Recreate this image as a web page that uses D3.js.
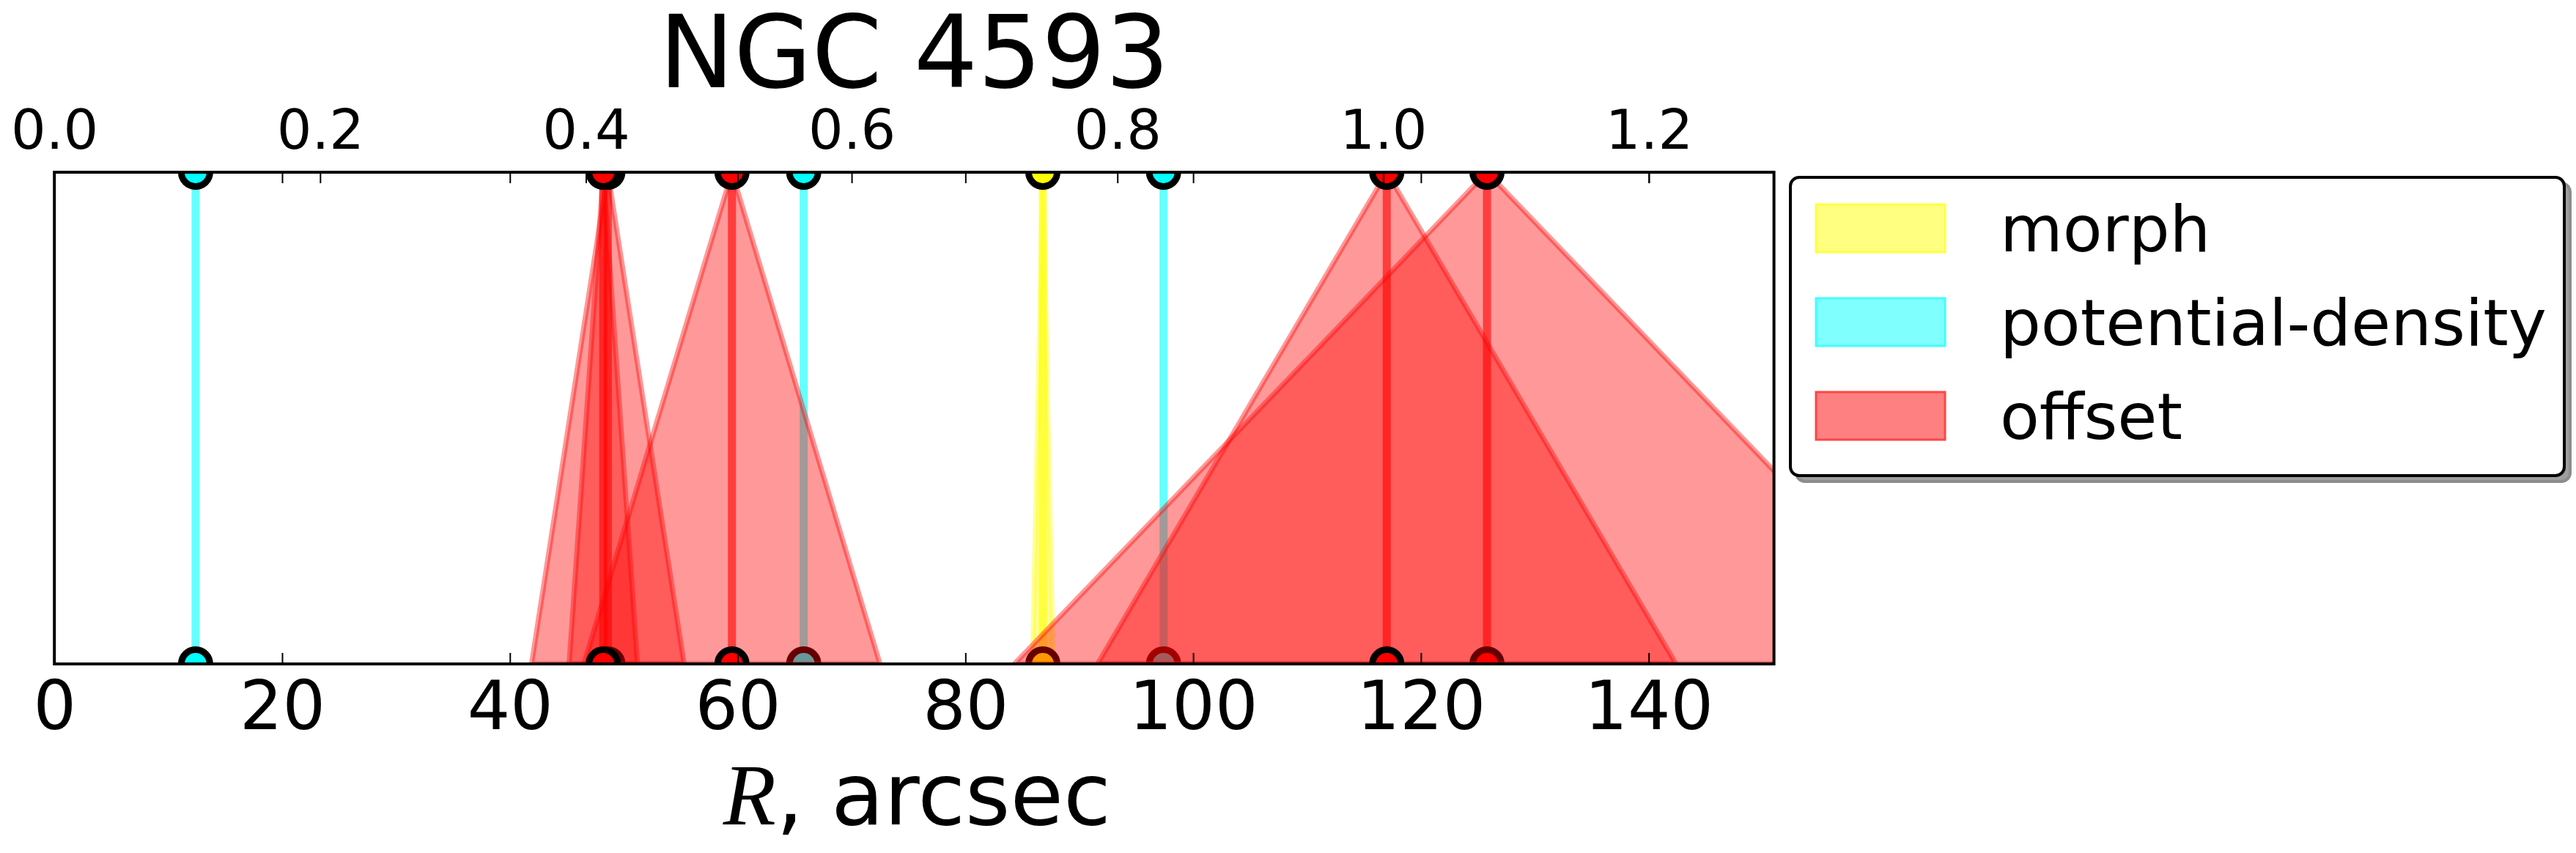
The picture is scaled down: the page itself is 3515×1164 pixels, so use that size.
<!DOCTYPE html>
<html><head><meta charset="utf-8">
<script src="https://cdn.jsdelivr.net/npm/d3@7"></script>
<style>
html,body{margin:0;padding:0;background:#fff;}
svg{display:block;}
text{font-family:"DejaVu Sans",sans-serif;fill:#000;}
</style></head>
<body>
<svg id="chart" width="3515" height="1164"></svg>
<script>
// ---- data ----
const morphR = [86.8];
const morphErr = [0.9];
const potR = [12.4, 65.8, 97.4];
const potErr = [0, 0, 0];
const offsetR = [125.8, 117.0, 59.5, 48.6, 48.2];
const offsetErr = [41.5, 25.4, 13.0, 6.7, 3.0];
const bottomTicks = [0, 20, 40, 60, 80, 100, 120, 140];
const topTicks = [0.0, 0.2, 0.4, 0.6, 0.8, 1.0, 1.2];
const legendLabels = ["morph", "potential-density", "offset"];
const title = "NGC 4593";
const xMax = 151;
const topMax = 1.2941;

// ---- layout ----
const L = 74.2, R = 2420.6, T = 235, B = 906;
const svg = d3.select("#chart");
svg.append("rect").attr("width", 3515).attr("height", 1164).attr("fill", "#fff");

const x = d3.scaleLinear().domain([0, xMax]).range([L, R]);
const xTop = d3.scaleLinear().domain([0, topMax]).range([L, R]);
const y = d3.scaleLinear().domain([0, 1]).range([B, T]);

svg.append("defs").append("clipPath").attr("id", "plotclip")
  .append("rect").attr("x", L).attr("y", T).attr("width", R - L).attr("height", B - T);

const plot = svg.append("g").attr("clip-path", "url(#plotclip)");

const groups = [
  {color: "#ffff00", r: morphR, e: morphErr},
  {color: "#00ffff", r: potR, e: potErr},
  {color: "#ff0000", r: offsetR, e: offsetErr}
];

groups.forEach(g => {
  g.r.forEach((rv, i) => {
    const ev = g.e[i];
    const gg = plot.append("g");
    if (ev > 0) {
      const pts = [[rv, 1], [rv - ev, 0], [rv + ev, 0]];
      gg.append("path")
        .attr("d", d3.line().x(d => x(d[0])).y(d => y(d[1]))(pts) + "Z")
        .attr("fill", g.color).attr("fill-opacity", 0.4)
        .attr("stroke", g.color).attr("stroke-opacity", 0.4)
        .attr("stroke-width", 7).attr("stroke-linejoin", "miter");
    }
    gg.append("line")
      .attr("x1", x(rv)).attr("x2", x(rv)).attr("y1", y(1)).attr("y2", y(0))
      .attr("stroke", g.color).attr("stroke-opacity", 0.6).attr("stroke-width", 11);
    [1, 0].forEach(yy => {
      gg.append("circle").attr("cx", x(rv)).attr("cy", y(yy)).attr("r", 19.5)
        .attr("fill", g.color).attr("stroke", "#000").attr("stroke-width", 9);
    });
  });
});

// ---- axes ----
const axB = svg.append("g").attr("transform", `translate(0,${B})`)
  .call(d3.axisBottom(x).tickValues(bottomTicks).tickSizeInner(-15).tickSizeOuter(0).tickFormat(d3.format("d")));
const axBt = svg.append("g").attr("transform", `translate(0,${T})`)
  .call(d3.axisTop(x).tickValues(bottomTicks).tickSizeInner(-15).tickSizeOuter(0).tickFormat(""));
const axT = svg.append("g").attr("transform", `translate(0,${T})`)
  .call(d3.axisTop(xTop).tickValues(topTicks).tickSizeInner(-15).tickSizeOuter(0).tickFormat(d3.format(".1f")));

[axB, axBt, axT].forEach(a => {
  a.select(".domain").remove();
  a.selectAll(".tick line").attr("stroke", "#000").attr("stroke-width", 2);
});
axB.selectAll("text").attr("y", 89).attr("dy", 0)
  .style("font-family", "'DejaVu Sans'").style("font-size", "92px").attr("fill", "#000");
axT.selectAll("text").attr("y", -32).attr("dy", 0)
  .style("font-family", "'DejaVu Sans'").style("font-size", "75px").attr("fill", "#000");

// spines
svg.append("rect").attr("x", L).attr("y", T).attr("width", R - L).attr("height", B - T)
  .attr("fill", "none").attr("stroke", "#000").attr("stroke-width", 4);

// title
svg.append("text").attr("x", (L + R) / 2).attr("y", 119).attr("text-anchor", "middle")
  .style("font-size", "137px").text(title);

// x label
const xl = svg.append("text").attr("x", (L + R) / 2 + 4).attr("y", 1125).attr("text-anchor", "middle")
  .style("font-size", "118px");
xl.append("tspan").style("font-family", "'Liberation Serif',serif").style("font-style", "italic").text("R");
xl.append("tspan").text(", arcsec");

// ---- legend ----
const lg = svg.append("g");
const lx = 2443, ly = 242, lw = 1056, lh = 407;
lg.append("rect").attr("x", lx + 8).attr("y", ly + 8).attr("width", lw).attr("height", lh)
  .attr("rx", 12).attr("fill", "#9e9e9e").attr("stroke", "#8c8c8c").attr("stroke-width", 4);
lg.append("rect").attr("x", lx).attr("y", ly).attr("width", lw).attr("height", lh)
  .attr("rx", 12).attr("fill", "#fff").attr("stroke", "#000").attr("stroke-width", 4);
const legColors = [["#ffff80", "#ffff40"], ["#80ffff", "#40ffff"], ["#ff8080", "#ff4545"]];
legendLabels.forEach((lab, i) => {
  const yy = 279 + i * 128;
  lg.append("rect").attr("x", 2478).attr("y", yy).attr("width", 176).attr("height", 65)
    .attr("fill", legColors[i][0]).attr("stroke", legColors[i][1]).attr("stroke-width", 3);
  lg.append("text").attr("x", 2729).attr("y", yy + 64).style("font-size", "88px").text(lab);
});
</script>
</body></html>
